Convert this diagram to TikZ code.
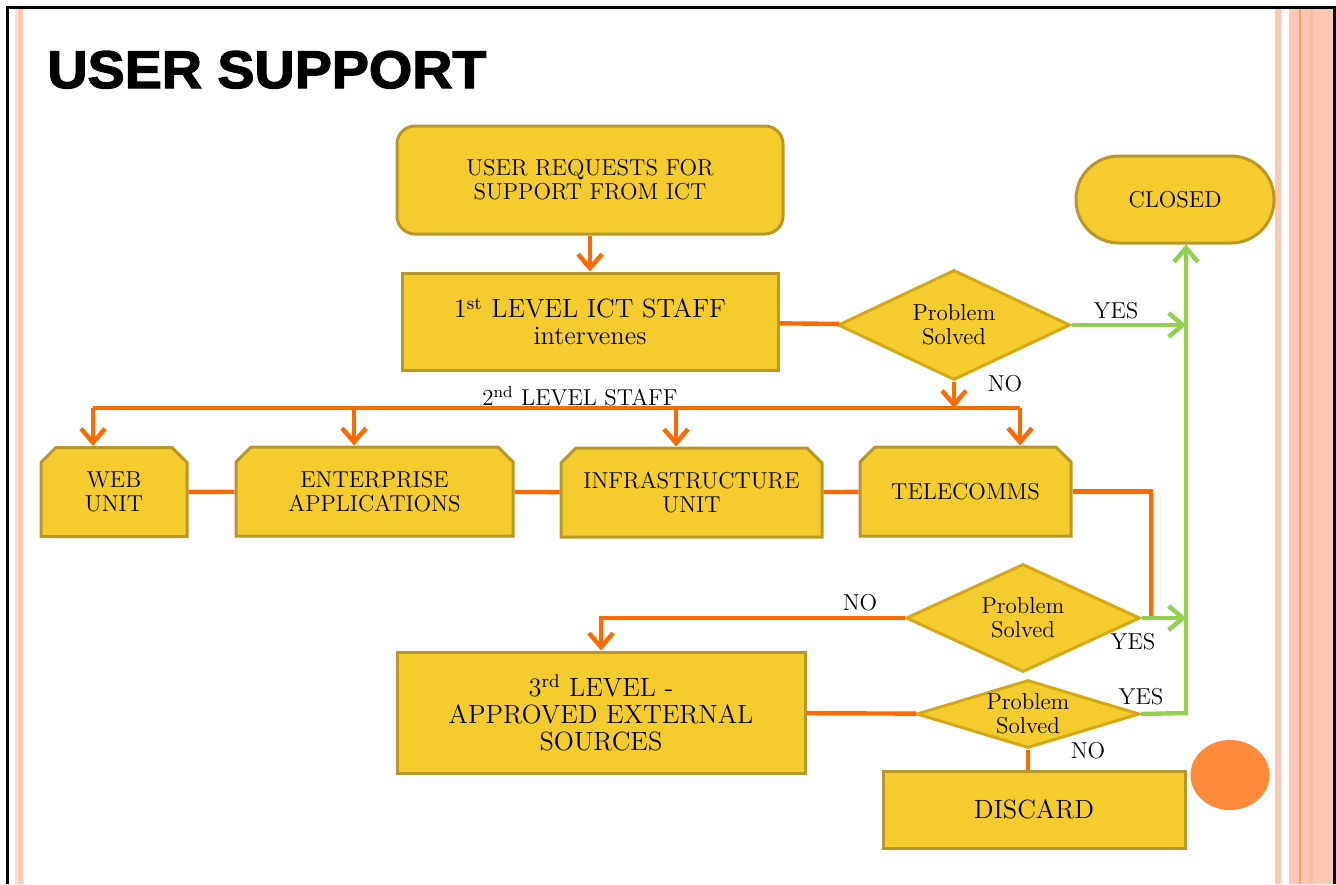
\documentclass[tikz,border=0pt]{standalone}
\usepackage{fontspec}
\usetikzlibrary{positioning,shapes.geometric,shapes.misc,arrows.meta}
\newfontfamily\titlefont{Liberation Sans}[BoldFeatures={FakeBold=2.5,FakeStretch=1.05}]
\definecolor{boxfill}{RGB}{244,204,46}
\definecolor{boxline}{RGB}{184,152,40}
\definecolor{dialine}{RGB}{212,168,22}
\definecolor{noline}{RGB}{255,106,0}
\definecolor{yesline}{RGB}{146,208,80}
\definecolor{stripe}{RGB}{252,200,180}
\definecolor{stripemid}{RGB}{249,188,160}
\definecolor{stripedark}{RGB}{248,158,105}
\definecolor{dotcol}{RGB}{255,138,58}
\newcommand{\txtsmall}{\fontsize{11.5}{12}\selectfont}
\newcommand{\txtbig}{\fontsize{13.2}{13.5}\selectfont}

\begin{document}
\begin{tikzpicture}[x=0.5pt,y=-0.5pt,
    box/.style={draw=boxline,fill=boxfill,line width=1.5pt,align=center,inner sep=0pt,font=\txtsmall},
    unitbox/.style={box,chamfered rectangle,chamfered rectangle corners={north west,north east},
        chamfered rectangle xsep=3.75pt,chamfered rectangle ysep=3.75pt,minimum height=44.5pt},
    decision/.style={diamond,draw=dialine,fill=boxfill,line width=1.5pt,inner sep=0pt,
        label={[align=center,font=\txtsmall]center:#1}},
    lbl/.style={font=\txtsmall,inner sep=0pt},
    flow/.style={draw=noline,line width=2.2pt},
    arr/.style={flow,-{Straight Barb[length=7pt,width=12pt]}},
    yes/.style={draw=yesline,line width=2.2pt},
    yesarr/.style={yes,-{Straight Barb[length=7pt,width=12pt]}}]
    \useasboundingbox (0,0) rectangle (1336,884);
    % page decoration
    \fill[stripe] (1289,8) rectangle (1333,884);
    \fill[stripedark] (1299,8) rectangle (1301,884);
    \fill[stripemid] (1310,8) rectangle (1313,884);
    \fill[stripe] (1275,8) rectangle (1281,884);
    \fill[stripe!70] (15,8) rectangle (16.5,884);
    \fill[stripe] (18,8) rectangle (23,884);
    \draw[line width=1.5pt] (7,884) -- (7,7) -- (1334.5,7) -- (1334.5,884);
    \node[anchor=base west,inner sep=0pt,font=\titlefont\bfseries\fontsize{26.5}{30}\selectfont] (title) at (47,88) {USER SUPPORT};

    % first level
    \node[box,rounded corners=9pt,minimum width=193pt,minimum height=54pt] (start) at (590,180) {USER REQUESTS FOR\\SUPPORT FROM ICT};
    \node[box,font=\txtbig,minimum width=188pt,minimum height=48.5pt] (lvl1) at (590,321.5) {1\textsuperscript{st} LEVEL ICT STAFF\\intervenes};
    \node[decision={Problem\\Solved},minimum width=116pt,minimum height=55pt] (d1) at (954,325) {};
    \node[box,rounded corners=21.5pt,minimum width=99pt,minimum height=43.5pt] (closed) at (1175,199.5) {CLOSED};

    % second level
    \node[unitbox,minimum width=73pt] (web) at (114,492) {WEB\\UNIT};
    \node[unitbox,minimum width=138.5pt] (ent) at (374.5,491.5) {ENTERPRISE\\APPLICATIONS};
    \node[unitbox,minimum width=130.5pt] (infra) at (691.5,492.5) {INFRASTRUCTURE\\UNIT};
    \node[unitbox,minimum width=105.5pt] (tele) at (965.5,491.5) {TELECOMMS};
    \node[decision={Problem\\Solved},minimum width=117pt,minimum height=54pt] (d2) at (1023,618) {};

    % third level
    \node[box,font=\txtbig,minimum width=204pt,minimum height=60.5pt] (lvl3) at (601,712.5) {3\textsuperscript{rd} LEVEL -\\APPROVED EXTERNAL\\SOURCES};
    \node[decision={Problem\\Solved},minimum width=111.5pt,minimum height=34pt] (d3) at (1028,714) {};
    \node[box,font=\txtbig,minimum width=151pt,minimum height=38.5pt] (discard) at (1034,809.5) {DISCARD};
    \fill[dotcol] (1230,775) ellipse [x radius=19.75pt,y radius=17.5pt];

    % bus to the units
    \coordinate (b1) at (93,408);
    \coordinate (b2) at (354,408);
    \coordinate (b3) at (676,408);
    \coordinate (b4) at (1020,408);
    \coordinate (bn) at (954,408);
    \coordinate (t1) at (1151,618);
    \coordinate (g3) at (1186,713);

    \draw[arr] (start) -- (lvl1);
    \draw[flow] (lvl1) -- (d1);
    \draw[flow] (b1) -- (b4);
    \draw[arr] (d1.south) -- (bn);
    \draw[arr] (b1) -- (b1 |- web.north);
    \draw[arr] (b2) -- (b2 |- ent.north);
    \draw[arr] (b3) -- (b3 |- infra.north);
    \draw[arr] (b4) -- (b4 |- tele.north);
    \draw[flow] (web) -- (ent);
    \draw[flow] (ent) -- (infra);
    \draw[flow] (infra) -- (tele);
    \draw[flow] (tele.east) -| (t1) -- (d2.east);
    \draw[arr] (d2.west) -| (lvl3.north);
    \draw[flow] (lvl3) -- (d3);
    \draw[flow] (d3.south) -- (d3.south |- discard.north);

    \draw[yesarr] (d1.east) -- (d1.east -| g3);
    \draw[yesarr] (d2.east) -- (d2.east -| g3);
    \draw[yesarr] (d3.east) -- (g3) -- (g3 |- closed.south);

    \node[lbl] (lvl2) at (580,396) {2\textsuperscript{nd} LEVEL STAFF};
    \node[lbl] (no1) at (1005,384) {NO};
    \node[lbl] (yes1) at (1116,311) {YES};
    \node[lbl] (no2) at (860,603) {NO};
    \node[lbl] (yes2) at (1133,642) {YES};
    \node[lbl] (yes3) at (1141,697) {YES};
    \node[lbl] (no3) at (1088,751) {NO};
\end{tikzpicture}
\end{document}
